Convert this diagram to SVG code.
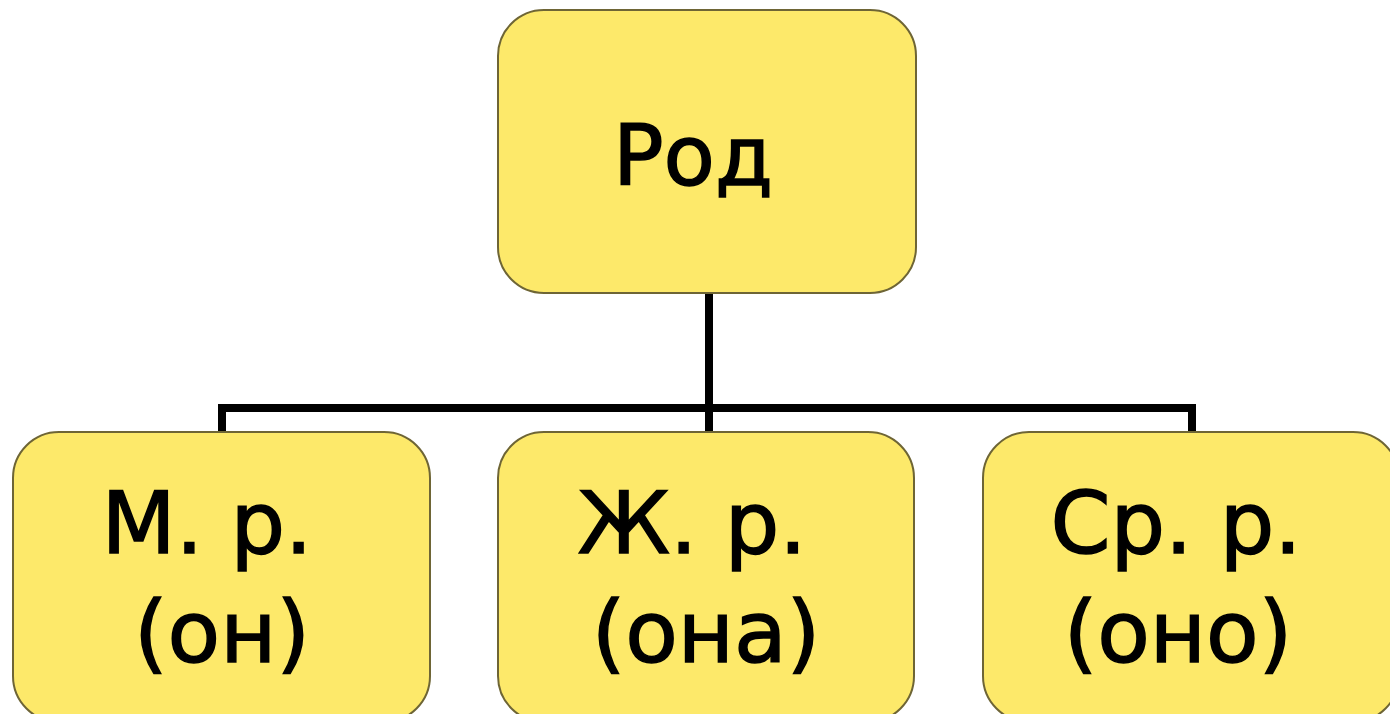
<svg xmlns="http://www.w3.org/2000/svg" width="1390" height="714" viewBox="0 0 1390 714">
<style>
.box{fill:#FDE96A;stroke:#6E6535;stroke-width:2}
.t{font-family:"DejaVu Sans","Liberation Sans",sans-serif;fill:#000;stroke:#000;stroke-width:1.5;text-anchor:middle}
.c{fill:none;stroke:#000;stroke-width:8;stroke-linejoin:miter}
</style>
<rect width="1390" height="714" fill="#fff"/>
<g id="connectors">
<path class="c" d="M709,293 V408 M222,432 V408 H1192 V432 M709,408 V432"/>
</g>
<g id="rod">
<rect class="box" x="498" y="10" width="418" height="283" rx="46"/>
<text class="t" x="693" y="185" font-size="84">Род</text>
</g>
<g id="m">
<rect class="box" x="13" y="432" width="417" height="290" rx="46"/>
<text class="t" x="207" y="553" font-size="86">М. р.</text>
<text class="t" x="222" y="662" font-size="86">(он)</text>
</g>
<g id="zh">
<rect class="box" x="498" y="432" width="416" height="290" rx="46"/>
<text class="t" x="692" y="553" font-size="86">Ж. р.</text>
<text class="t" x="706" y="662" font-size="86">(она)</text>
</g>
<g id="sr">
<rect class="box" x="983" y="432" width="416" height="290" rx="46"/>
<text class="t" x="1176" y="553" font-size="86">Ср. р.</text>
<text class="t" x="1178" y="662" font-size="86">(оно)</text>
</g>
</svg>
